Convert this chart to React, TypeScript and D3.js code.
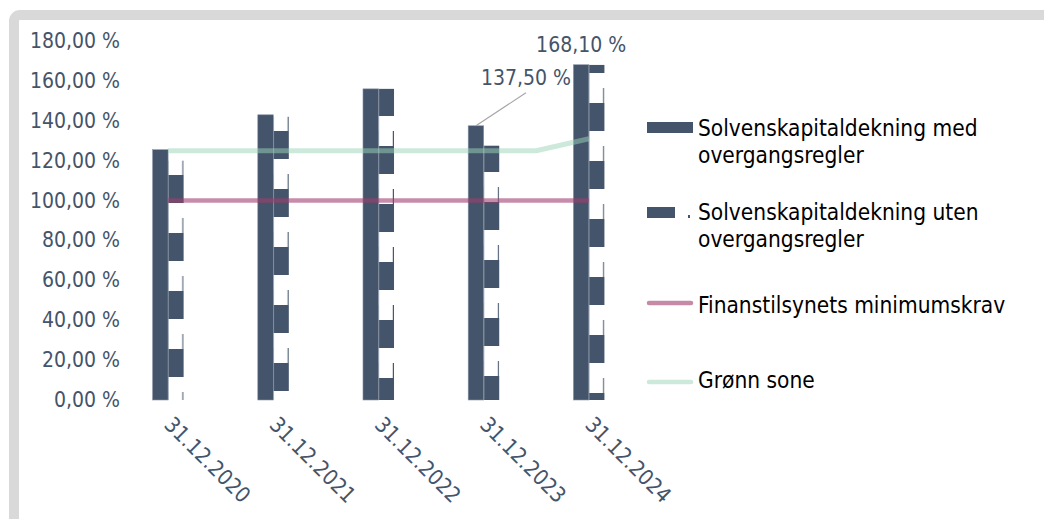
import React from "react";
import * as d3 from "d3";

const categories = ["31.12.2020", "31.12.2021", "31.12.2022", "31.12.2023", "31.12.2024"];
const withTransitional = [125.5, 143, 156, 137.5, 168.1];
const withoutTransitional = [120, 142, 156, 127.5, 168];
const minimumRequirement = [100, 100, 100, 100, 100];
const greenZone = [125, 125, 125, 125, 125, 125, 125, 125, 131];
const yTicks = [0, 20, 40, 60, 80, 100, 120, 140, 160, 180];
const legendLabels = [
  ["Solvenskapitaldekning med", "overgangsregler"],
  ["Solvenskapitaldekning uten", "overgangsregler"],
  ["Finanstilsynets minimumskrav"],
  ["Grønn sone"],
];

// texture phase of the dashed fill, per bar (style only)
const PATTERN_PHASE = [1, 15, 30, 28, 45];

const W = 1044;
const H = 519;
const NAVY = "#44546a";
const FONT = "'DejaVu Sans Condensed', 'DejaVu Sans', sans-serif";
const fmt = (v: number) => v.toFixed(2).replace(".", ",") + " %";

export default function App() {
  const x = d3
    .scaleBand<string>()
    .domain(categories)
    .range([115.5, 641.5])
    .paddingInner(0.705)
    .paddingOuter(0.3525);
  const sub = d3.scaleBand<string>().domain(["a", "b"]).range([0, x.bandwidth()]);
  const y = d3.scaleLinear().domain([0, 180]).range([400, 41]);
  const cx = (c: string) => (x(c) as number) + x.bandwidth() / 2;

  const lineX = d3
    .scalePoint<number>()
    .domain(greenZone.map((_, i) => i))
    .range([cx(categories[0]), cx(categories[categories.length - 1])]);
  const greenPath = d3
    .line<number>()
    .x((_, i) => lineX(i) as number)
    .y((d) => y(d))(greenZone) as string;
  const redPath = d3
    .line<number>()
    .x((_, i) => cx(categories[i]))
    .y((d) => y(d))(minimumRequirement) as string;

  const bw = sub.bandwidth();

  return (
    <svg
      width={W}
      height={H}
      style={{ position: "absolute", left: 0, top: 0, background: "#fff" }}
      fontFamily={FONT}
    >
      <defs>
        {categories.map((c, i) => {
          const bx = (x(c) as number) + (sub("b") as number);
          return (
            <pattern
              key={c}
              id={`pat${i}`}
              patternUnits="userSpaceOnUse"
              x={bx}
              y={PATTERN_PHASE[i]}
              width={bw}
              height={58}
            >
              <rect x={0} y={0} width={bw} height={28} fill={NAVY} />
              <rect x={bw - 1.2} y={43} width={1.2} height={15} fill={NAVY} />
            </pattern>
          );
        })}
      </defs>
      <rect x={14} y={15} width={1200} height={700} rx={6} fill="#fff" stroke="#d9d9d9" strokeWidth={10} />

      {/* y tick labels */}
      {yTicks.map((t) => (
        <text
          key={t}
          x={120}
          y={y(t)}
          textAnchor="end"
          dominantBaseline="central"
          fontSize={21}
          fill={NAVY}
        >
          {fmt(t)}
        </text>
      ))}

      {/* bars */}
      {categories.map((c, i) => {
        const x0 = x(c) as number;
        return (
          <g key={c}>
            <rect
              x={x0 + (sub("a") as number)}
              y={y(withTransitional[i])}
              width={bw}
              height={y(0) - y(withTransitional[i])}
              fill={NAVY}
              stroke="#8a96a8"
              strokeWidth={0.6}
            />
            <rect
              x={x0 + (sub("b") as number)}
              y={y(withoutTransitional[i])}
              width={bw}
              height={y(0) - y(withoutTransitional[i])}
              fill={`url(#pat${i})`}
            />
            <line
              x1={x0 + (sub("b") as number) + 0.3}
              x2={x0 + (sub("b") as number) + 0.3}
              y1={y(withoutTransitional[i])}
              y2={y(0)}
              stroke="#9aa4b2"
              strokeWidth={0.6}
            />
          </g>
        );
      })}

      {/* lines */}
      <path d={greenPath} fill="none" stroke="#9bd3b7" strokeOpacity={0.5} strokeWidth={5} />
      <path d={redPath} fill="none" stroke="#a0406f" strokeOpacity={0.6} strokeWidth={4.5} />

      {/* x labels */}
      {categories.map((c) => (
        <text
          key={c}
          transform={`translate(${cx(c) - 5},${426}) rotate(45)`}
          fontSize={21.5}
          fill={NAVY}
        >
          {c}
        </text>
      ))}

      {/* data labels */}
      {(() => {
        const i4 = 4;
        const c4 = categories[i4];
        const bx4 = (x(c4) as number) + (sub("a") as number) + bw / 2;
        const i3 = 3;
        const c3 = categories[i3];
        const bx3 = (x(c3) as number) + (sub("a") as number) + bw / 2;
        return (
          <g fontSize={21} fill={NAVY}>
            <text x={bx4} y={y(withTransitional[i4]) - 13} textAnchor="middle">
              {fmt(withTransitional[i4])}
            </text>
            <line
              x1={bx3}
              y1={y(withTransitional[i3])}
              x2={bx3 + 50}
              y2={y(withTransitional[i3]) - 33}
              stroke="#a6a6a6"
              strokeWidth={1.2}
            />
            <text x={bx3 + 50} y={y(withTransitional[i3]) - 41} textAnchor="middle">
              {fmt(withTransitional[i3])}
            </text>
          </g>
        );
      })()}

      {/* legend */}
      <g fontSize={22.5} fill="#000">
        <rect x={647} y={122} width={46} height={11} fill={NAVY} />
        <rect x={647} y={207} width={28} height={11} fill={NAVY} />
        <rect x={688} y={215} width={2} height={3} fill={NAVY} />
        <line x1={649} x2={691} y1={303} y2={303} stroke="#c68aa6" strokeWidth={4.5} strokeLinecap="round" />
        <line x1={649} x2={691} y1={382} y2={382} stroke="#cde9db" strokeWidth={4.5} strokeLinecap="round" />
        {[
          [136, 163],
          [220, 247],
          [313],
          [388],
        ].map((ys, k) =>
          legendLabels[k].map((t, j) => (
            <text key={`${k}-${j}`} x={698} y={ys[j]}>
              {t}
            </text>
          ))
        )}
      </g>
    </svg>
  );
}
